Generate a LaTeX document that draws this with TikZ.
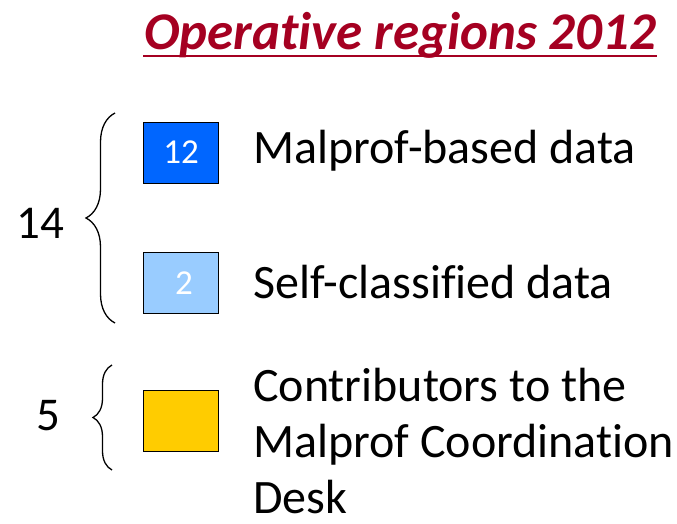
\documentclass[tikz,border=0pt]{standalone}
\usepackage{fontspec}
\setmainfont[Ligatures=NoCommon]{Carlito}
\usetikzlibrary{positioning,decorations.pathreplacing}
\definecolor{titlered}{HTML}{A50021}
\definecolor{darkbox}{HTML}{0066FF}
\definecolor{lightbox}{HTML}{99CCFF}
\definecolor{goldbox}{HTML}{FFCC00}
\newcommand{\regionbrace}[3]{\draw[decorate, decoration={brace, amplitude=#3}, line width=1.3pt] (#1) -- (#2);}

\begin{document}
\begin{tikzpicture}[x=1pt, y=-1pt,
  regbox/.style = {draw, line width=1.4pt, minimum width=75pt, minimum height=61pt, inner sep=0pt},
  boxnum/.style = {white, font=\fontsize{35}{35}\selectfont, inner sep=0pt, anchor=base},
  label/.style = {font=\fontsize{48}{56}\selectfont, inner sep=0pt, anchor=base west, align=left},
  total/.style = {font=\fontsize{47}{47}\selectfont, inner sep=0pt, anchor=base west}]
\useasboundingbox (0,0) rectangle (677,524);
% title
\node[titlered, font=\fontsize{53}{53}\selectfont\bfseries\itshape, inner sep=0pt, anchor=base west] (title) at (144,50) {Operative regions 2012};
\draw[titlered, line width=2.4pt] (title.base west) ++(-1,6) coordinate (ul) -- (ul -| title.base east);
% boxes
\node[regbox, fill=darkbox, anchor=north west] (malbox) at (143,122) {};
\node[regbox, fill=lightbox, anchor=north west] (selfbox) at (143,252) {};
\node[regbox, fill=goldbox, anchor=north west] (deskbox) at (143,390) {};
\node[boxnum] (nmal) at (181,164) {12};
\node[boxnum] (nself) at (184,294) {2};
% labels
\node[label] (lmal) at (253,163) {Malprof-based data};
\node[label] (lself) at (253,298) {Self-classified data};
\node[label] (ldesk) at (253,513) {Contributors to the\\Malprof Coordination\\Desk};
% braces
\coordinate (b1s) at (115,323);
\coordinate (b1e) at (115,113);
\coordinate (b2s) at (112,470);
\coordinate (b2e) at (112,365);
\regionbrace{b1s}{b1e}{29pt}
\regionbrace{b2s}{b2e}{19pt}
\node[total] (t14) at (16,238) {14};
\node[total] (t5) at (36,430) {5};
\end{tikzpicture}
\end{document}
